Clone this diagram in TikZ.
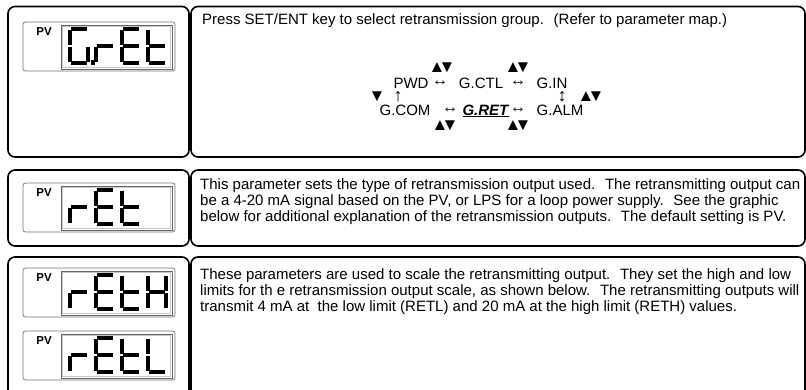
\documentclass[tikz,border=0pt]{standalone}
\usepackage{fontspec}
\setmainfont{Liberation Sans}

% seven-segment strokes, local frame: width 18, height 34, y grows downward
\newcommand\lcdsegA{\draw[seg] (0.9,0)--(17.1,0);}
\newcommand\lcdsegB{\draw[seg] (18,0.9)--(18,16.1);}
\newcommand\lcdsegC{\draw[seg] (18,17.9)--(18,33.1);}
\newcommand\lcdsegD{\draw[seg] (0.9,34)--(17.1,34);}
\newcommand\lcdsegE{\draw[seg] (0,17.9)--(0,33.1);}
\newcommand\lcdsegF{\draw[seg] (0,0.9)--(0,16.1);}
\newcommand\lcdsegG{\draw[seg] (0.9,17)--(17.1,17);}

% one display window: frame, glass and the PV label
\newcommand\lcdwindow[2]{%
  \draw[lcdframe] (23,#2) rectangle (175,#2+49);
  \draw[lcdwin] (61,#2+3) rectangle (172,#2+47);
  \draw[lcdwinin] (62.5,#2+4.5) rectangle (170.5,#2+45.5);
  \node[pv] (#1) at (44,#2+10) {PV};
}

% up/down key pair, set tight
\newcommand\updown{▲\kern-7pt▼}

\tikzset{
  seg/.style={line width=3.8pt,line cap=butt,black},
  pics/chG/.style={code={\lcdsegA\lcdsegF\lcdsegE\lcdsegD\lcdsegC}},
  pics/chr/.style={code={\lcdsegE\lcdsegG}},
  pics/chE/.style={code={\lcdsegA\lcdsegF\lcdsegG\lcdsegE\lcdsegD}},
  pics/cht/.style={code={\lcdsegF\lcdsegG\lcdsegE\lcdsegD}},
  pics/chH/.style={code={\lcdsegB\lcdsegC\lcdsegE\lcdsegF\lcdsegG}},
  pics/chL/.style={code={\lcdsegF\lcdsegE\lcdsegD}},
  pics/chdot/.style={code={\fill (0,31) rectangle (3.6,35.8);}},
}

\begin{document}
\begin{tikzpicture}[x=1pt,y=-1pt,
  panel/.style={draw=black,line width=1.6pt,rounded corners=7pt},
  lcdframe/.style={draw=black!55,line width=0.7pt,rounded corners=2.5pt},
  lcdwin/.style={draw=black!60,line width=0.8pt},
  lcdwinin/.style={draw=black!22,line width=0.6pt},
  body/.style={anchor=base west,inner sep=0pt,font=\fontsize{15}{19}\selectfont},
  pv/.style={inner sep=0pt,font=\bfseries\fontsize{11.5}{11.5}\selectfont},
  mapw/.style={anchor=base,inner sep=0pt,font=\fontsize{15}{18}\selectfont},
  sym/.style={inner sep=0pt,font=\fontsize{16}{16}\selectfont},
  vsym/.style={inner sep=0pt,font=\fontsize{18}{18}\selectfont},
  tri/.style={inner sep=0pt,font=\fontsize{17}{17}\selectfont},
]
\useasboundingbox (0,0) rectangle (806,389);

% outer panels
\draw[panel] (8,6.5) rectangle (189,157);
\draw[panel] (191,6.5) rectangle (805,157);
\draw[panel] (8,170) rectangle (189,246);
\draw[panel] (191,170) rectangle (805,246);
\draw[panel] (8,257) rectangle (189,400);
\draw[panel] (191,257) rectangle (805,400);

% display: G.rEt
\lcdwindow{pv1}{22}
\pic at (70,29) {chG};
\pic at (91,29) {chdot};
\pic at (96,29) {chr};
\pic at (122,29) {chE};
\pic at (148,29) {cht};

% display: rEt
\lcdwindow{pv2}{183}
\pic at (70,190) {chr};
\pic at (96,190) {chE};
\pic at (122,190) {cht};

% display: rEtH
\lcdwindow{pv3}{268}
\pic at (70,275) {chr};
\pic at (96,275) {chE};
\pic at (122,275) {cht};
\pic at (148,275) {chH};

% display: rEtL
\lcdwindow{pv4}{331}
\pic at (70,338) {chr};
\pic at (96,338) {chE};
\pic at (122,338) {cht};
\pic at (148,338) {chL};

% group selection
\node[body] (t1) at (202,24) {Press SET/ENT key to select retransmission group.~ (Refer to parameter map.)};

\node[mapw] (pwd)  at (411,88) {PWD};
\node[sym]  (lr1)  at (440,83) {↔};
\node[mapw] (gctl) at (481,88) {G.CTL};
\node[sym]  (lr2)  at (518,83) {↔};
\node[mapw] (gin)  at (552,88) {G.IN};
\node[tri]  (ta)   at (442,68) {\updown};
\node[tri]  (tb)   at (518,68) {\updown};

\node[tri]  (dn)   at (377,97) {▼};
\node[vsym] (up)   at (398,97) {↑};
\node[vsym] (ud)   at (562,97) {↕};
\node[tri]  (tc)   at (591,97) {\updown};

\node[mapw] (gcom) at (405,115) {G.COM};
\node[sym]  (lr3)  at (450,110) {↔};
\node[mapw] (gret) at (486,115) {\underline{\textbf{\textit{G.RET}}}};
\node[sym]  (lr4)  at (518,110) {↔};
\node[mapw] (galm) at (560,115) {G.ALM};
\node[tri]  (td)   at (445,126) {\updown};
\node[tri]  (te)   at (518,126) {\updown};

% output type
\node[body] (t2a) at (200,189) {This parameter sets the type of retransmission output used.~ The retransmitting output can};
\node[body] (t2b) at (200,205) {be a 4-20 mA signal based on the PV, or LPS for a loop power supply.~ See the graphic};
\node[body] (t2c) at (200,221) {below for additional explanation of the retransmission outputs.~ The default setting is PV.};

% output scaling
\node[body] (t3a) at (200,279) {These parameters are used to scale the retransmitting output.~ They set the high and low};
\node[body] (t3b) at (200,295) {limits for th e retransmission output scale, as shown below.~ The retransmitting outputs will};
\node[body] (t3c) at (200,311) {transmit 4 mA at~ the low limit (RETL) and 20 mA at the high limit (RETH) values.};
\end{tikzpicture}
\end{document}
